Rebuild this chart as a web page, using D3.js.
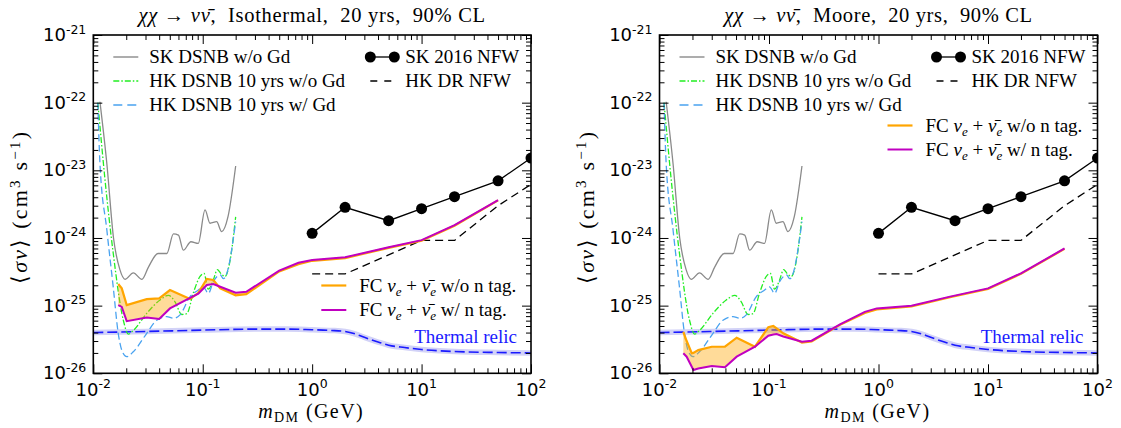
<!DOCTYPE html>
<html><head><meta charset="utf-8">
<script src="https://cdn.jsdelivr.net/npm/d3@7"></script>
<style>
body{margin:0;background:#fff;}
svg{display:block;}
text{font-family:"Liberation Serif","Times New Roman",serif;fill:#000;white-space:pre;}
.tl{font-family:"DejaVu Sans",sans-serif;}
</style></head><body>
<svg id="chart" width="1121" height="428"></svg>
<script>
// ---------- data ----------
const xTickExps = [-2, -1, 0, 1, 2];
const yTickExps = [-26, -25, -24, -23, -22, -21];

// SK DSNB w/o Gd (same in both panels)
const skDsnbMass  = [0.0115, 0.0133, 0.0153, 0.0175, 0.0195, 0.0232, 0.0278, 0.032, 0.039, 0.047, 0.054, 0.06, 0.0665, 0.078, 0.091, 0.105, 0.1166, 0.134, 0.149, 0.17, 0.2];
const skDsnbSigma = [1.03e-22, 1.25e-23, 1.0e-24, 3.4e-25, 2.45e-25, 3.05e-25, 2.45e-25, 3.75e-25, 5.9e-25, 5.9e-25, 1.15e-24, 1.1e-24, 6.6e-25, 8.8e-25, 8.3e-25, 2.6e-24, 1.65e-24, 1.74e-24, 1.24e-24, 2.05e-24, 1.16e-23];

// HK DSNB 10 yrs w/o Gd
const hkNoGdMass  = [0.011, 0.0128, 0.0152, 0.0188, 0.0209, 0.0232, 0.0308, 0.0407, 0.0486, 0.0558, 0.0643, 0.0714, 0.0821, 0.0945, 0.1028, 0.1125, 0.125, 0.136, 0.146, 0.16, 0.178, 0.2];
const hkNoGdSigma = [1.0e-22, 7.2e-24, 6.0e-25, 6.1e-26, 3.8e-26, 4.3e-26, 7.7e-26, 1.21e-25, 1.42e-25, 1.14e-25, 7.4e-26, 7.6e-26, 1.55e-25, 2.7e-25, 3.0e-25, 1.75e-25, 2.4e-25, 3.4e-25, 3.0e-25, 2.7e-25, 4.7e-25, 2.05e-24];

// HK DSNB 10 yrs w/ Gd
const hkGdMass  = [0.011, 0.0115, 0.0133, 0.0152, 0.0169, 0.0182, 0.0202, 0.0232, 0.0308, 0.038, 0.0469, 0.0539, 0.062, 0.0766, 0.0912, 0.101, 0.1126, 0.125, 0.1445, 0.155, 0.166, 0.2];
const hkGdSigma = [1.0e-22, 1.27e-23, 1.31e-24, 1.9e-25, 3.9e-26, 2.2e-26, 1.76e-26, 2.08e-26, 3.9e-26, 6.1e-26, 6.9e-26, 6.5e-26, 7.3e-26, 1.36e-25, 1.7e-25, 1.9e-25, 1.52e-25, 2.26e-25, 2.84e-25, 2.5e-25, 3.0e-25, 1.75e-24];

// SK 2016 NFW
const skNfwMass  = [1, 2, 5, 10, 20, 50, 100];
const skNfwSigma = [1.17e-24, 2.84e-24, 1.8e-24, 2.71e-24, 4.07e-24, 7.0e-24, 1.52e-23];

// HK DR NFW
const hkDrMass  = [1, 2, 10, 20, 50, 100];
const hkDrSigma = [2.94e-25, 2.94e-25, 9.2e-25, 9.2e-25, 3.0e-24, 6.2e-24];

// Thermal relic
const thermalMass  = [0.01, 0.03, 0.1, 0.3, 0.6, 1, 1.5, 2, 2.5, 3, 4, 5, 7, 10, 20, 50, 100];
const thermalSigma = [4.0e-26, 4.15e-26, 4.35e-26, 4.5e-26, 4.5e-26, 4.4e-26, 4.3e-26, 4.15e-26, 3.8e-26, 3.4e-26, 2.9e-26, 2.6e-26, 2.4e-26, 2.25e-26, 2.1e-26, 2.03e-26, 2.0e-26];

// FC nu_e + nubar_e, Isothermal
const fcIsoMass  = [0.0169, 0.0182, 0.0202, 0.0308, 0.0400, 0.0502, 0.0766, 0.0912, 0.109, 0.125, 0.1445, 0.2, 0.25, 0.5, 0.75, 1, 2, 5, 10, 20, 50];
const fcIsoNoTag = [2.09e-25, 1.8e-25, 1.02e-25, 1.25e-25, 1.28e-25, 1.7e-25, 1.25e-25, 1.55e-25, 2.48e-25, 2.4e-25, 1.8e-25, 1.42e-25, 1.48e-25, 3.2e-25, 4.1e-25, 4.6e-25, 5.05e-25, 7.15e-25, 9.1e-25, 1.52e-24, 3.6e-24];
const fcIsoTag   = [1.02e-25, 9.6e-26, 5.9e-26, 6.7e-26, 6.35e-26, 9.1e-26, 1.3e-25, 1.5e-25, 2.02e-25, 2.09e-25, 1.9e-25, 1.55e-25, 1.6e-25, 3.3e-25, 4.3e-25, 4.73e-25, 5.18e-25, 7.3e-25, 9.3e-25, 1.55e-24, 3.64e-24];

// FC nu_e + nubar_e, Moore
const fcMooreMass  = [0.0165, 0.0177, 0.0197, 0.0204, 0.0226, 0.030, 0.0396, 0.0507, 0.0745, 0.0986, 0.1095, 0.1175, 0.135, 0.2, 0.245, 0.445, 0.75, 0.963, 2, 4.5, 10, 20, 50];
const fcMooreNoTag = [4.1e-26, 3.0e-26, 1.98e-26, 2.0e-26, 2.2e-26, 2.47e-26, 2.47e-26, 3.36e-26, 2.47e-26, 4.8e-26, 5.0e-26, 4.6e-26, 3.9e-26, 2.85e-26, 2.95e-26, 5.2e-26, 7.8e-26, 8.8e-26, 9.7e-26, 1.33e-25, 1.76e-25, 2.95e-25, 6.9e-25];
const fcMooreTag   = [1.98e-26, 1.76e-26, 1.25e-26, 1.12e-26, 1.18e-26, 1.28e-26, 1.23e-26, 1.76e-26, 2.47e-26, 3.6e-26, 3.75e-26, 3.81e-26, 3.5e-26, 2.93e-26, 3.03e-26, 5.3e-26, 8.1e-26, 9.1e-26, 9.97e-26, 1.36e-25, 1.8e-25, 3.0e-25, 7.0e-25];

const titles = ["Isothermal", "Moore"];

// ---------- drawing ----------
const svg = d3.select("#chart");
const yTop = 35, yBot = 373.3;
const panels = [
  {id: 0, x0: 93.3, x1: 531, title: titles[0], titleW: 348, fcMass: fcIsoMass, fcNo: fcIsoNoTag, fcTag: fcIsoTag, fcLegY: [285.5, 310]},
  {id: 1, x0: 659.5, x1: 1097.5, title: titles[1], titleW: 309, fcMass: fcMooreMass, fcNo: fcMooreNoTag, fcTag: fcMooreTag, fcLegY: [125.5, 149.5]}
];

const C = {gray: "#8a8a8a", green: "#22ee22", blue: "#4aa3f0", orange: "#ffa500", magenta: "#c000c0", thermal: "#1a1aff", band: "#d2d2f7"};
const LF = "19px";

function minors(lo, hi) {
  const v = [];
  for (let e = lo; e < hi; e++) for (let k = 2; k <= 9; k++) v.push(k * Math.pow(10, e));
  return v;
}

// centre a text on cx and spread it to the target width with letter spacing
function fitCentered(t, cx, target) {
  t.attr("text-anchor", "start");
  const node = t.node();
  const w = node.getComputedTextLength();
  const n = node.textContent.length;
  const ls = n > 1 ? (target - w) / n : 0;
  t.style("letter-spacing", ls + "px");
  const w2 = node.getComputedTextLength();
  t.attr("x", cx - w2 / 2);
}

panels.forEach(p => {
  const x = d3.scaleLog().domain([1e-2, 1e2]).range([p.x0, p.x1]);
  const y = d3.scaleLog().domain([1e-26, 1e-21]).range([yBot, yTop]);
  const g = svg.append("g");
  const clipId = "clip" + p.id;
  g.append("clipPath").attr("id", clipId).append("rect")
    .attr("x", p.x0).attr("y", yTop).attr("width", p.x1 - p.x0).attr("height", yBot - yTop);
  const plot = g.append("g").attr("clip-path", `url(#${clipId})`);

  const mkLine = (mass, curve) => d3.line().x((d, i) => x(mass[i])).y(d => y(d)).curve(curve || d3.curveLinear);

  // thermal relic
  const lt = mkLine(thermalMass, d3.curveMonotoneX);
  plot.append("path").attr("d", lt(thermalSigma)).attr("fill", "none").attr("stroke", C.band).attr("stroke-width", 5.5);
  plot.append("path").attr("d", lt(thermalSigma)).attr("fill", "none").attr("stroke", C.thermal).attr("stroke-width", 1.6).attr("stroke-dasharray", "10,4");

  // DSNB curves
  plot.append("path").attr("d", mkLine(skDsnbMass, d3.curveMonotoneX)(skDsnbSigma)).attr("fill", "none").attr("stroke", C.gray).attr("stroke-width", 1.3);
  plot.append("path").attr("d", mkLine(hkNoGdMass, d3.curveMonotoneX)(hkNoGdSigma)).attr("fill", "none").attr("stroke", C.green).attr("stroke-width", 1.3).attr("stroke-dasharray", "6,2,1.5,2");
  plot.append("path").attr("d", mkLine(hkGdMass, d3.curveMonotoneX)(hkGdSigma)).attr("fill", "none").attr("stroke", C.blue).attr("stroke-width", 1.3).attr("stroke-dasharray", "7,3.5");

  // HK DR NFW
  plot.append("path").attr("d", mkLine(hkDrMass)(hkDrSigma)).attr("fill", "none").attr("stroke", "#000").attr("stroke-width", 1.3).attr("stroke-dasharray", "8,5");
  // SK 2016 NFW
  plot.append("path").attr("d", mkLine(skNfwMass)(skNfwSigma)).attr("fill", "none").attr("stroke", "#000").attr("stroke-width", 1.3);
  plot.selectAll("circle.sk").data(skNfwSigma).enter().append("circle")
    .attr("cx", (d, i) => x(skNfwMass[i])).attr("cy", d => y(d)).attr("r", 5.5).attr("fill", "#000");

  // FC band
  const area = d3.area().x((d, i) => x(p.fcMass[i])).y0((d, i) => y(p.fcNo[i])).y1((d, i) => y(p.fcTag[i]));
  plot.append("path").attr("d", area(p.fcMass)).attr("fill", C.orange).attr("fill-opacity", 0.4);
  plot.append("path").attr("d", mkLine(p.fcMass)(p.fcNo)).attr("fill", "none").attr("stroke", C.orange).attr("stroke-width", 2.2);
  plot.append("path").attr("d", mkLine(p.fcMass)(p.fcTag)).attr("fill", "none").attr("stroke", C.magenta).attr("stroke-width", 2.0);

  // axes ticks (inward on all sides)
  const xMaj = xTickExps.map(e => Math.pow(10, e));
  const yMaj = yTickExps.map(e => Math.pow(10, e));
  const xMin = minors(-2, 2), yMin = minors(-26, -21);
  const mk = (fn, sc, vals, size) => fn(sc).tickValues(vals).tickSizeInner(size).tickSizeOuter(0).tickFormat("");
  const addAxis = (axis, tr) => {
    const a = g.append("g").attr("transform", tr).call(axis);
    a.select(".domain").remove();
    a.selectAll("line").attr("stroke", "#000").attr("stroke-width", 1);
  };
  addAxis(mk(d3.axisBottom, x, xMaj, -9), `translate(0,${yBot})`);
  addAxis(mk(d3.axisBottom, x, xMin, -5), `translate(0,${yBot})`);
  addAxis(mk(d3.axisTop, x, xMaj, -9), `translate(0,${yTop})`);
  addAxis(mk(d3.axisTop, x, xMin, -5), `translate(0,${yTop})`);
  addAxis(mk(d3.axisLeft, y, yMaj, -9), `translate(${p.x0},0)`);
  addAxis(mk(d3.axisLeft, y, yMin, -5), `translate(${p.x0},0)`);
  addAxis(mk(d3.axisRight, y, yMaj, -9), `translate(${p.x1},0)`);
  addAxis(mk(d3.axisRight, y, yMin, -5), `translate(${p.x1},0)`);

  g.append("rect").attr("x", p.x0).attr("y", yTop).attr("width", p.x1 - p.x0).attr("height", yBot - yTop)
    .attr("fill", "none").attr("stroke", "#000").attr("stroke-width", 1.6);

  // tick labels
  xTickExps.forEach(e => {
    const t = g.append("text").attr("class", "tl").attr("x", x(Math.pow(10, e))).attr("y", yBot + 22.3)
      .attr("text-anchor", "middle").style("font-size", "18px");
    t.append("tspan").text("10");
    t.append("tspan").attr("dy", -7.5).style("font-size", "12.5px").text(String(e));
  });
  yTickExps.forEach(e => {
    const t = g.append("text").attr("class", "tl").attr("x", p.x0 - 7).attr("y", y(Math.pow(10, e)) + 6)
      .attr("text-anchor", "end").style("font-size", "18px");
    t.append("tspan").text("10");
    t.append("tspan").attr("dy", -7.5).style("font-size", "12.5px").text(String(e));
  });

  // title
  const cx = (p.x0 + p.x1) / 2;
  const tt = g.append("text").attr("y", 22).style("font-size", "20.5px");
  tt.append("tspan").style("font-style", "italic").text("χχ");
  tt.append("tspan").text(" → ");
  tt.append("tspan").style("font-style", "italic").text("νν\u0304");
  tt.append("tspan").text(",  " + p.title + ",  20 yrs,  90% CL");
  fitCentered(tt, cx, p.titleW);

  // axis labels
  const xl = g.append("text").attr("y", 417.5).style("font-size", "20px");
  xl.append("tspan").style("font-style", "italic").text("m");
  xl.append("tspan").attr("dy", 4).style("font-size", "14px").text("DM");
  xl.append("tspan").attr("dy", -4).text(" (GeV)");
  fitCentered(xl, cx - 1, 106);

  const ylx = p.x0 - 66, yly = 208;
  const yl = g.append("text").attr("transform", `translate(${ylx},${yly}) rotate(-90)`).attr("text-anchor", "middle").style("font-size", "22px")
    .attr("textLength", 152).attr("lengthAdjust", "spacing");
  yl.append("tspan").text("⟨");
  yl.append("tspan").style("font-style", "italic").text("σv");
  yl.append("tspan").text("⟩ (cm");
  yl.append("tspan").attr("dy", -7.5).style("font-size", "15px").text("3");
  yl.append("tspan").attr("dy", 7.5).text(" s");
  yl.append("tspan").attr("dy", -7.5).style("font-size", "15px").text("−1");
  yl.append("tspan").attr("dy", 7.5).text(")");

  // legend (upper)
  const lx0 = p.x0 + 20, lx1 = p.x0 + 45, ltx = p.x0 + 56;
  const legRows = [
    {yv: 57, color: C.gray, dash: null, label: "SK DSNB w/o Gd"},
    {yv: 81, color: C.green, dash: "6,2,1.5,2", label: "HK DSNB 10 yrs w/o Gd"},
    {yv: 105, color: C.blue, dash: "9,5", label: "HK DSNB 10 yrs w/ Gd"}
  ];
  legRows.forEach(r => {
    const l = g.append("line").attr("x1", lx0).attr("x2", lx1).attr("y1", r.yv).attr("y2", r.yv)
      .attr("stroke", r.color).attr("stroke-width", 1.4);
    if (r.dash) l.attr("stroke-dasharray", r.dash);
    g.append("text").attr("x", ltx).attr("y", r.yv + 6).style("font-size", LF).text(r.label);
  });
  const rx0 = p.x0 + 277, rx1 = p.x0 + 301, rtx = p.x0 + 312;
  g.append("line").attr("x1", rx0).attr("x2", rx1).attr("y1", 57).attr("y2", 57).attr("stroke", "#000").attr("stroke-width", 1.3);
  [rx0, rx1].forEach(cxm => g.append("circle").attr("cx", cxm).attr("cy", 57).attr("r", 5.5).attr("fill", "#000"));
  g.append("text").attr("x", rtx).attr("y", 63).style("font-size", LF).text("SK 2016 NFW");
  g.append("line").attr("x1", rx0).attr("x2", rx1 + 1).attr("y1", 81).attr("y2", 81).attr("stroke", "#000").attr("stroke-width", 1.3).attr("stroke-dasharray", "7,7");
  g.append("text").attr("x", rtx).attr("y", 87).style("font-size", LF).text("HK DR NFW");

  // FC legend
  const fx0 = p.x0 + 228, fx1 = p.x0 + 253, ftx = p.x0 + 266;
  [[C.orange, "w/o n tag.", p.fcLegY[0], 2.2], [C.magenta, "w/ n tag.", p.fcLegY[1], 2.0]].forEach(([col, tail, yy, w]) => {
    g.append("line").attr("x1", fx0).attr("x2", fx1).attr("y1", yy).attr("y2", yy).attr("stroke", col).attr("stroke-width", w);
    const t = g.append("text").attr("x", ftx).attr("y", yy + 6).style("font-size", LF);
    t.append("tspan").text("FC ");
    t.append("tspan").style("font-style", "italic").text("ν");
    t.append("tspan").attr("dy", 4).style("font-size", "13px").style("font-style", "italic").text("e");
    t.append("tspan").attr("dy", -4).text(" + ");
    t.append("tspan").style("font-style", "italic").text("ν\u0304");
    t.append("tspan").attr("dy", 4).style("font-size", "13px").style("font-style", "italic").text("e");
    t.append("tspan").attr("dy", -4).text(" " + tail);
  });

  // thermal relic label
  g.append("text").attr("x", p.x1 - 14).attr("y", 342.5).attr("text-anchor", "end")
    .style("font-size", LF).style("fill", "#1a1aff").text("Thermal relic");
});
</script>
</body></html>
